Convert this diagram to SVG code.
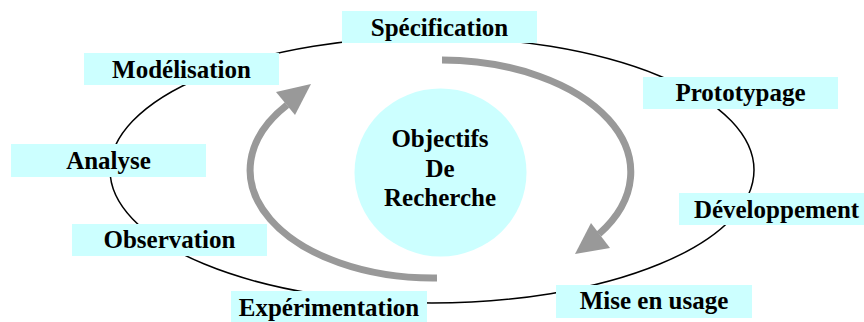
<svg xmlns="http://www.w3.org/2000/svg" width="864" height="322" viewBox="0 0 864 322">
<style>
.box{fill:#CCFFFF;stroke:none}
.lbl{font-weight:bold;font-size:25px;fill:#000;text-anchor:middle}
.arc{fill:none;stroke:#999999;stroke-width:7}
.head{fill:#999999}
</style>
<rect width="864" height="322" fill="#fff"/>
<g id="connectors">
<ellipse cx="432" cy="170" rx="322" ry="133" fill="none" stroke="#000" stroke-width="1.5"/>
<path class="arc" d="M442,60 A190,112 0 0 1 599,234"/>
<polygon class="head" points="575,254 591,223 610,248"/>
<path class="arc" d="M437,278 A183,108 0 0 1 287,105"/>
<polygon class="head" points="311,84 276,92 295,115"/>
</g>
<g font-family="Liberation Serif, serif">
<g id="center">
<ellipse cx="440.5" cy="172.5" rx="86" ry="84" class="box"/>
<text class="lbl" x="440" y="147">Objectifs</text>
<text class="lbl" x="440" y="177">De</text>
<text class="lbl" x="440" y="206">Recherche</text>
</g>
<g id="specification"><rect class="box" x="342" y="11" width="195" height="32"/><text class="lbl" x="439.5" y="36">Spécification</text></g>
<g id="modelisation"><rect class="box" x="84" y="53" width="195" height="32"/><text class="lbl" x="181.5" y="78">Modélisation</text></g>
<g id="prototypage"><rect class="box" x="643" y="77" width="195" height="32"/><text class="lbl" x="740.5" y="101">Prototypage</text></g>
<g id="analyse"><rect class="box" x="11" y="144" width="195" height="33"/><text class="lbl" x="108.5" y="169">Analyse</text></g>
<g id="developpement"><rect class="box" x="679" y="193" width="195" height="32"/><text class="lbl" x="776.5" y="218">Développement</text></g>
<g id="observation"><rect class="box" x="72" y="224" width="195" height="32"/><text class="lbl" x="169.5" y="248">Observation</text></g>
<g id="experimentation"><rect class="box" x="231" y="291" width="196" height="33"/><text class="lbl" x="329" y="316">Expérimentation</text></g>
<g id="mise-en-usage"><rect class="box" x="556" y="285" width="196" height="33"/><text class="lbl" x="654" y="309">Mise en usage</text></g>
</g>
</svg>
